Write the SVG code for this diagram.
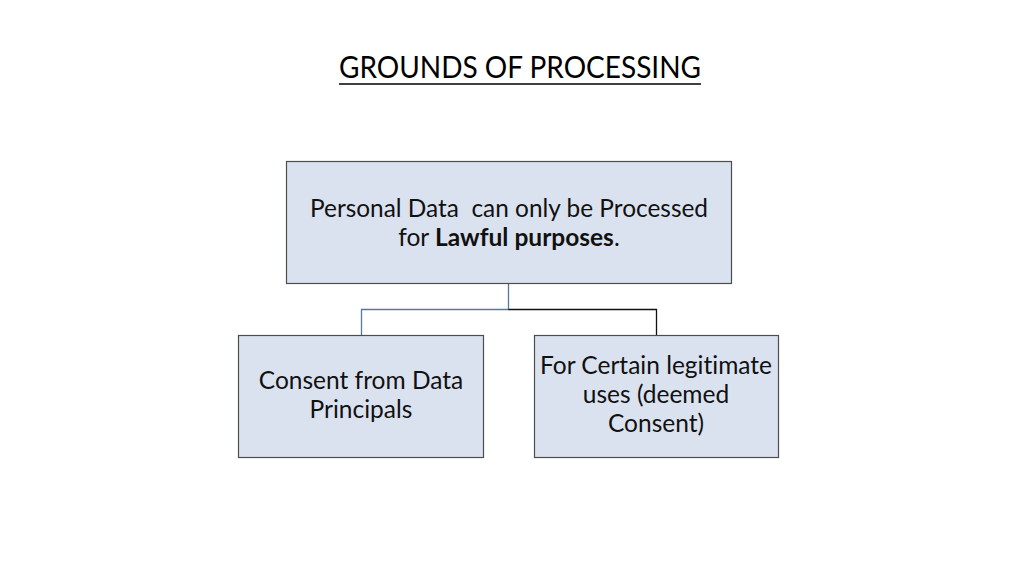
<svg xmlns="http://www.w3.org/2000/svg" width="1024" height="576" viewBox="0 0 1024 576">
<style>
.box{fill:#dbe2ef;stroke:#4d4d4d;stroke-width:1.2}
.t{font-family:Lato,"Open Sans","Liberation Sans",sans-serif;font-size:24.5px;fill:#111;text-anchor:middle;white-space:pre;font-variant-ligatures:none}
.title{font-family:Lato,"Open Sans","Liberation Sans",sans-serif;font-size:31px;fill:#000;text-anchor:middle}
</style>
<rect width="1024" height="576" fill="#fff"/>
<g id="title">
<text class="title" x="520" y="78" textLength="362" lengthAdjust="spacingAndGlyphs">GROUNDS OF PROCESSING</text>
<line x1="339" y1="84" x2="701" y2="84" stroke="#000" stroke-width="1.5"/>
</g>
<g id="connectors" fill="none" stroke-width="1.3">
<path d="M508.5 283V309.5H361.5V335" stroke="#5676a2"/>
<path d="M508.5 309.5H656.5V335" stroke="#111"/>
</g>
<g id="node-top">
<rect class="box" x="286.5" y="161.5" width="445" height="122"/>
<text class="t" x="509" y="217" textLength="398" lengthAdjust="spacingAndGlyphs" xml:space="preserve">Personal Data  can only be Processed</text>
<text class="t" x="509" y="246">for <tspan font-weight="bold">Lawful purposes</tspan>.</text>
</g>
<g id="node-left">
<rect class="box" x="238.5" y="335.5" width="245" height="122"/>
<text class="t" x="361" y="389">Consent from Data</text>
<text class="t" x="361" y="418">Principals</text>
</g>
<g id="node-right">
<rect class="box" x="534.5" y="335.5" width="244" height="122"/>
<text class="t" x="656" y="374">For Certain legitimate</text>
<text class="t" x="656" y="403">uses (deemed</text>
<text class="t" x="656" y="432">Consent)</text>
</g>
</svg>
